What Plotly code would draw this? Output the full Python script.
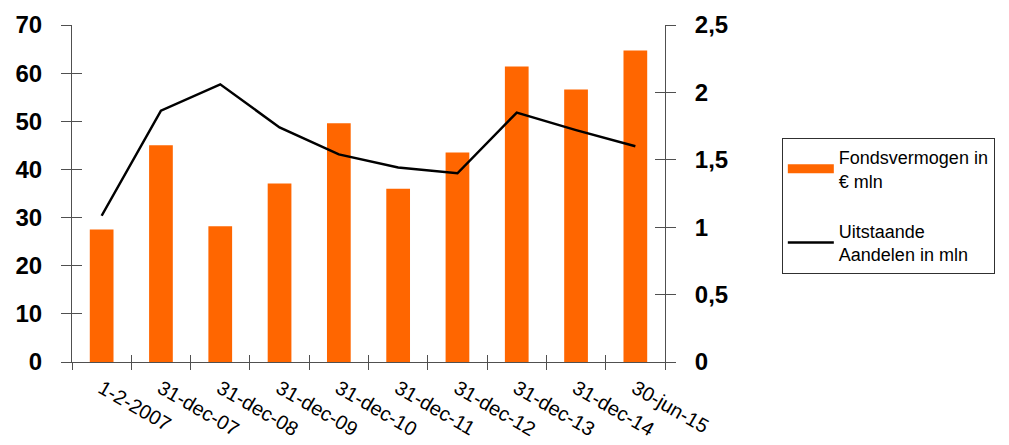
import plotly.graph_objects as go

# Reporting dates (category axis)
dates = ["1-2-2007", "31-dec-07", "31-dec-08", "31-dec-09", "31-dec-10",
         "31-dec-11", "31-dec-12", "31-dec-13", "31-dec-14", "30-jun-15"]

# Fund assets in EUR million (left axis)
fondsvermogen = [27.5, 45.0, 28.2, 37.1, 49.6, 36.0, 43.5, 61.4, 56.6, 64.7]

# Outstanding shares in million (right axis)
uitstaande_aandelen = [1.085, 1.865, 2.06, 1.74, 1.54, 1.443, 1.40, 1.85, 1.72, 1.60]

ORANGE = "#FF6600"
AXIS_GREY = "#505050"
FONT = "Liberation Sans, Arial, sans-serif"

fig = go.Figure()

fig.add_trace(go.Bar(
    x=dates, y=fondsvermogen, name="Fondsvermogen in<br>€ mln",
    marker=dict(color=ORANGE, line=dict(width=0)),
    showlegend=False, yaxis="y",
))
# legend entry drawn as a wide orange stroke
fig.add_trace(go.Scatter(
    x=[None], y=[None], mode="lines", name="Fondsvermogen in<br>€ mln",
    line=dict(color=ORANGE, width=9), yaxis="y", legendgroup="a",
))
fig.add_trace(go.Scatter(
    x=dates, y=uitstaande_aandelen, name="Uitstaande<br>Aandelen in mln",
    mode="lines", line=dict(color="black", width=2.5), yaxis="y2",
    legendgroup="b",
))
# empty helpers so the inner-tick overlay axes get rendered
for xa, ya in (("x2", "y3"), ("x2", "y4")):
    fig.add_trace(go.Scatter(x=[None], y=[None], xaxis=xa, yaxis=ya,
                             showlegend=False, hoverinfo="skip"))

tick_font = dict(family=FONT, size=24, color="black", weight="bold")

fig.update_layout(
    width=1009, height=445,
    margin=dict(l=72, r=344, t=25, b=83),
    paper_bgcolor="white", plot_bgcolor="white",
    separators=",.",
    bargap=0.6,
    showlegend=True,
    legend=dict(
        x=1.197, y=0.665, xanchor="left", yanchor="top",
        bgcolor="white", bordercolor="#303030", borderwidth=1,
        font=dict(family=FONT, size=18, color="black"),
        traceorder="grouped", tracegroupgap=24, itemwidth=46,
    ),
    xaxis=dict(
        type="category", tickson="boundaries", automargin=False,
        ticks="outside", ticklen=7, tickcolor=AXIS_GREY,
        showline=True, linecolor=AXIS_GREY, linewidth=1,
        showgrid=False, zeroline=False,
        tickangle=30, ticklabelstandoff=6,
        tickfont=dict(family=FONT, size=20, color="black"),
    ),
    xaxis2=dict(
        overlaying="x", range=[-0.5, 9.5], tick0=-0.5, dtick=1,
        ticks="inside", ticklen=7, tickcolor=AXIS_GREY, automargin=False,
        showticklabels=False, showline=False, showgrid=False, zeroline=False,
    ),
    yaxis=dict(
        range=[0, 70], dtick=10, automargin=False,
        ticks="outside", ticklen=10, tickcolor=AXIS_GREY,
        showline=True, linecolor=AXIS_GREY, linewidth=1,
        showgrid=False, zeroline=False,
        tickfont=tick_font, ticklabelstandoff=14,
    ),
    yaxis3=dict(
        overlaying="y", side="left", range=[0, 70], dtick=10, automargin=False,
        ticks="inside", ticklen=10, tickcolor=AXIS_GREY,
        showticklabels=False, showline=False, showgrid=False, zeroline=False,
    ),
    yaxis2=dict(
        overlaying="y", side="right", range=[0, 2.5], dtick=0.5, automargin=False,
        ticks="outside", ticklen=10, tickcolor=AXIS_GREY,
        showline=True, linecolor=AXIS_GREY, linewidth=1,
        showgrid=False, zeroline=False,
        tickfont=tick_font, ticklabelstandoff=14,
    ),
    yaxis4=dict(
        overlaying="y", side="right", range=[0, 2.5], dtick=0.5, automargin=False,
        ticks="inside", ticklen=10, tickcolor=AXIS_GREY,
        showticklabels=False, showline=False, showgrid=False, zeroline=False,
    ),
)

fig.write_html("out.html")
